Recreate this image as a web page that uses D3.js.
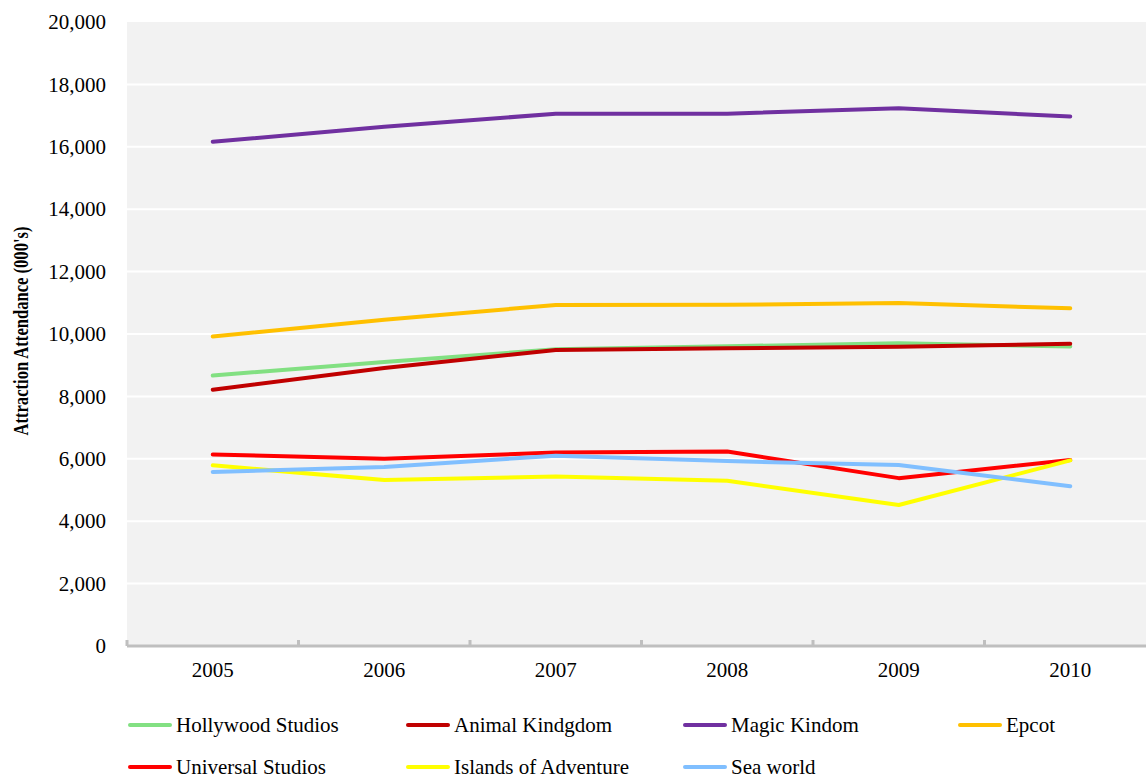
<!DOCTYPE html>
<meta charset="utf-8">
<script src="https://d3js.org/d3.v7.min.js"></script>
<style>
  body { margin: 0; background: #fff; }
  text { font-family: "Liberation Serif", "DejaVu Serif", serif; fill: #000; }
</style>
<div id="chart"></div>
<script>
    const years = ["2005", "2006", "2007", "2008", "2009", "2010"];
    const yTicks = [0, 2000, 4000, 6000, 8000, 10000, 12000, 14000, 16000, 18000, 20000];

    const hollywood = [8670, 9100, 9510, 9608, 9700, 9603];
    const animalKingdom = [8210, 8910, 9490, 9540, 9590, 9686];
    const magicKingdom = [16160, 16640, 17060, 17063, 17233, 16972];
    const epcot = [9917, 10460, 10930, 10935, 10990, 10825];
    const universal = [6140, 6000, 6200, 6231, 5380, 5960];
    const islands = [5790, 5320, 5430, 5297, 4520, 5949];
    const seaWorld = [5580, 5740, 6100, 5926, 5800, 5120];

    const seriesNames = ["Hollywood Studios", "Animal Kindgdom", "Magic Kindom", "Epcot",
                         "Universal Studios", "Islands of Adventure", "Sea world"];
    const seriesValues = [hollywood, animalKingdom, magicKingdom, epcot, universal, islands, seaWorld];
    const seriesColors = ["#82e082", "#c00000", "#7030a0", "#ffc000", "#ff0000", "#ffff00", "#80bfff"];

    const W = 1146, H = 778;
    const margin = {top: 22, left: 127, bottom: 132};
    const plotRight = 1156;
    const plotBottom = H - margin.bottom;

    const svg = d3.select("#chart")
        .append("svg")
            .attr("width", W)
            .attr("height", H);

    const x = d3.scaleBand()
        .domain(years)
        .range([margin.left, plotRight]);

    const y = d3.scaleLinear()
        .domain([0, 20000])
        .range([plotBottom, margin.top]);

    // plot background
    svg.append("rect")
        .attr("x", margin.left)
        .attr("y", margin.top)
        .attr("width", plotRight - margin.left)
        .attr("height", plotBottom - margin.top)
        .attr("fill", "#f2f2f2");

    // gridlines
    svg.append("g")
        .selectAll("line")
        .data(yTicks.filter(d => d > 0 && d < 20000))
        .join("line")
            .attr("x1", margin.left)
            .attr("x2", plotRight)
            .attr("y1", d => y(d))
            .attr("y2", d => y(d))
            .attr("stroke", "#fff")
            .attr("stroke-width", 2);

    // y axis labels
    const yAxis = svg.append("g")
        .attr("transform", `translate(${margin.left},0)`)
        .call(d3.axisLeft(y).tickValues(yTicks).tickFormat(d3.format(",")).tickSize(0).tickPadding(21));
    yAxis.select(".domain").remove();
    yAxis.selectAll("text")
        .style("font-family", '"Liberation Serif", serif')
        .style("font-size", "21px");

    // x axis
    const xAxis = svg.append("g")
        .attr("transform", `translate(0,${plotBottom})`)
        .call(d3.axisBottom(x).tickSize(0).tickPadding(16));
    xAxis.select(".domain").remove();
    xAxis.selectAll("text")
        .style("font-family", '"Liberation Serif", serif')
        .style("font-size", "21px");

    svg.append("line")
        .attr("x1", margin.left)
        .attr("x2", plotRight)
        .attr("y1", plotBottom)
        .attr("y2", plotBottom)
        .attr("stroke", "#bfbfbf")
        .attr("stroke-width", 3);

    svg.append("g")
        .selectAll("line")
        .data(years)
        .join("line")
            .attr("x1", d => x(d))
            .attr("x2", d => x(d))
            .attr("y1", plotBottom)
            .attr("y2", plotBottom - 6)
            .attr("stroke", "#bfbfbf")
            .attr("stroke-width", 3);

    // y title
    svg.append("text")
        .attr("transform", "translate(28,331) rotate(-90)")
        .attr("text-anchor", "middle")
        .attr("textLength", 209)
        .attr("lengthAdjust", "spacingAndGlyphs")
        .style("font-size", "20px")
        .style("font-weight", "bold")
        .text("Attraction Attendance (000's)");

    // lines
    const line = d3.line()
        .x((d, i) => x(years[i]) + x.bandwidth() / 2)
        .y(d => y(d));

    svg.append("g")
        .selectAll("path")
        .data(seriesValues)
        .join("path")
            .attr("d", d => line(d))
            .attr("fill", "none")
            .attr("stroke", (d, i) => seriesColors[i])
            .attr("stroke-width", 4)
            .attr("stroke-linejoin", "round")
            .attr("stroke-linecap", "round");

    // legend
    const legendX = [128, 406, 683, 958];
    const legendY = [725, 767];
    const legend = svg.append("g")
        .selectAll("g")
        .data(seriesNames)
        .join("g")
            .attr("transform", (d, i) => `translate(${legendX[i % 4]},${legendY[Math.floor(i / 4)]})`);
    legend.append("line")
        .attr("x1", 2)
        .attr("x2", 42)
        .attr("stroke", (d, i) => seriesColors[i])
        .attr("stroke-width", 4)
        .attr("stroke-linecap", "round");
    legend.append("text")
        .attr("x", 48)
        .attr("y", 7)
        .style("font-size", "21px")
        .text(d => d);
</script>
